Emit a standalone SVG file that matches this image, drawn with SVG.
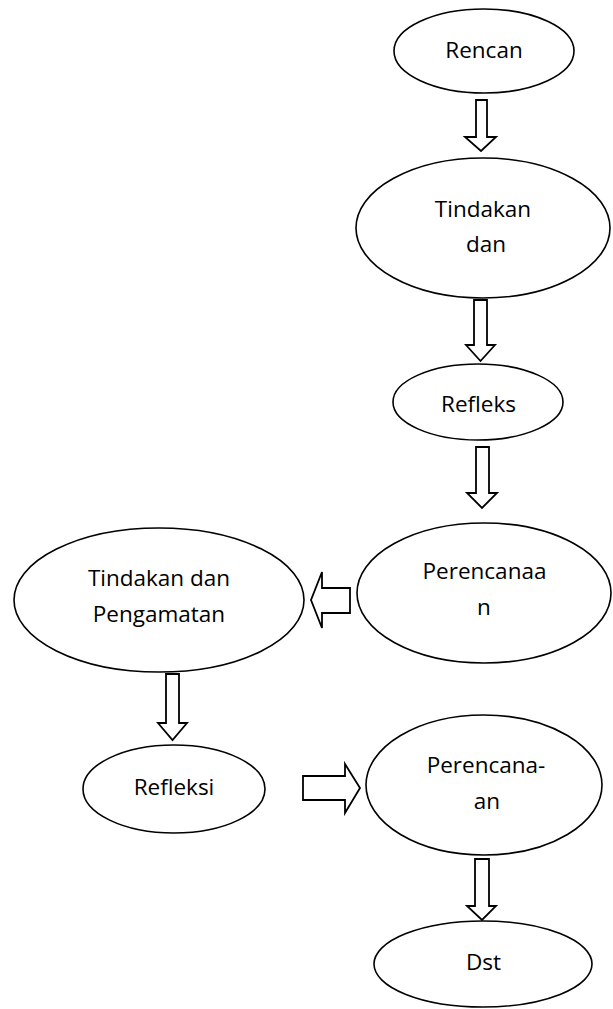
<svg xmlns="http://www.w3.org/2000/svg" width="613" height="1009" viewBox="0 0 613 1009">
<style>
.node ellipse{fill:#fff;stroke:#000;stroke-width:1.6}
.node text{font-family:"Open Sans","Noto Sans","Liberation Sans",sans-serif;font-size:22.5px;fill:#000;text-anchor:middle}
.arrow{fill:#fff;stroke:#000;stroke-width:1.8;stroke-linejoin:miter}
</style>
<rect width="613" height="1009" fill="#fff"/>
<g id="connectors">
<polygon class="arrow" points="476,100 487,100 487,137 496,137 481,151 465,137 476,137"/>
<polygon class="arrow" points="474,300 487,300 487,345 495,345 480.5,361 466,345 474,345"/>
<polygon class="arrow" points="476,447 489,447 489,493 497,493 482,508 467,493 476,493"/>
<polygon class="arrow" points="350,588 350,613 322,613 322,628 311,600 322,572 322,588"/>
<polygon class="arrow" points="166,674 179,674 179,723 187,723 172.5,740 158,723 166,723"/>
<polygon class="arrow" points="303,776 345,776 345,764 360,788 345,813 345,800 303,800"/>
<polygon class="arrow" points="475,859 489,859 489,906 496,906 482,920 467,906 475,906"/>
</g>
<g id="node-rencan" class="node">
<ellipse cx="484" cy="51" rx="90" ry="42"/>
<text x="484" y="58">Rencan</text>
</g>
<g id="node-tindakan" class="node">
<ellipse cx="483" cy="228" rx="127" ry="70"/>
<text x="483" y="217">Tindakan</text>
<text x="486" y="252">dan</text>
</g>
<g id="node-refleks" class="node">
<ellipse cx="478" cy="402" rx="85" ry="38"/>
<text x="478.5" y="412">Refleks</text>
</g>
<g id="node-perencanaan" class="node">
<ellipse cx="484" cy="593" rx="127" ry="70"/>
<text x="484.5" y="579">Perencanaa</text>
<text x="484" y="615">n</text>
</g>
<g id="node-tindakan-pengamatan" class="node">
<ellipse cx="159" cy="600" rx="145" ry="72"/>
<text x="159" y="586">Tindakan dan</text>
<text x="159" y="622">Pengamatan</text>
</g>
<g id="node-refleksi" class="node">
<ellipse cx="174" cy="789" rx="91" ry="44"/>
<text x="174" y="795">Refleksi</text>
</g>
<g id="node-perencana-an" class="node">
<ellipse cx="484" cy="785" rx="118" ry="70"/>
<text x="486" y="773">Perencana-</text>
<text x="487" y="809">an</text>
</g>
<g id="node-dst" class="node">
<ellipse cx="483" cy="964" rx="109" ry="43"/>
<text x="483.5" y="970">Dst</text>
</g>
</svg>
